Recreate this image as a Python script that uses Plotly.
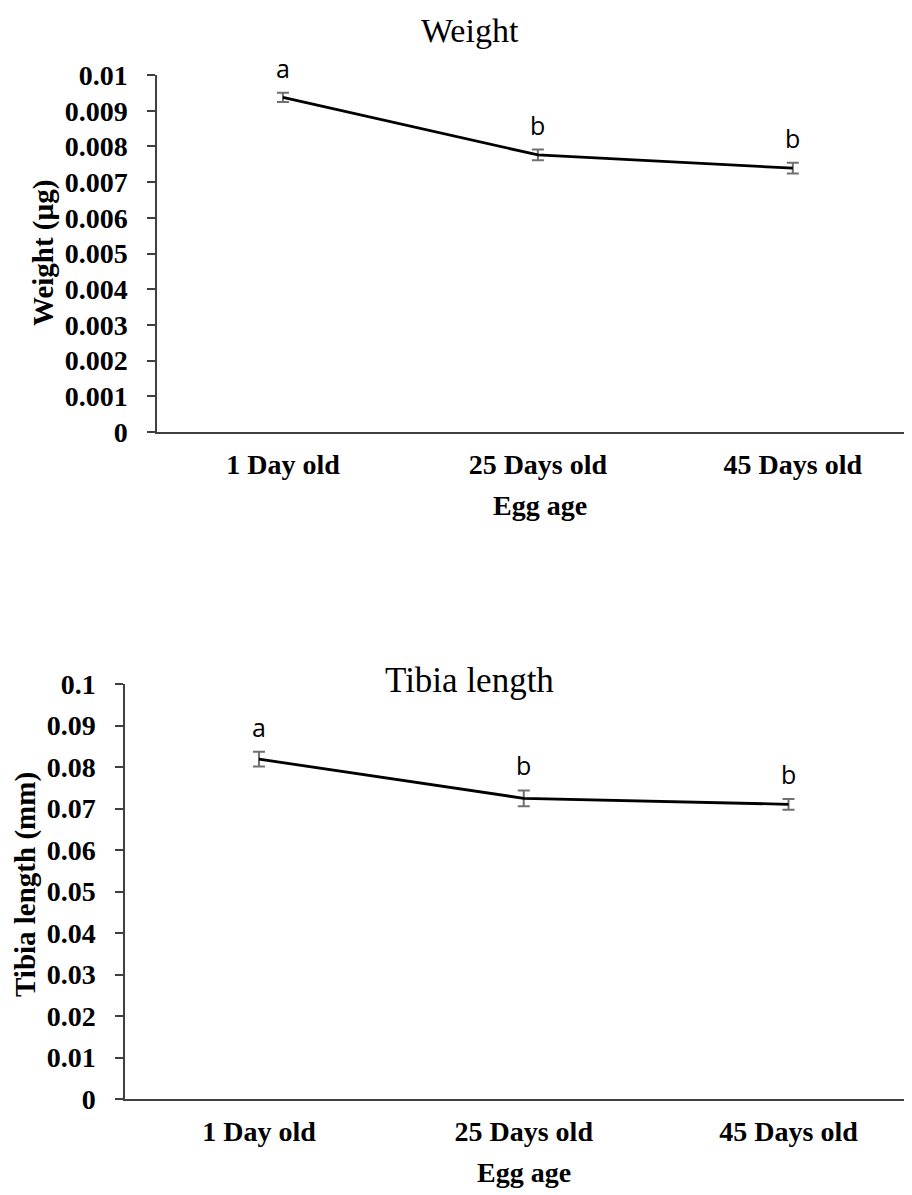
import plotly.graph_objects as go

categories = ["1 Day old", "25 Days old", "45 Days old"]
weight_mean = [0.009375, 0.00776, 0.00739]
weight_err = [0.00013, 0.00015, 0.00015]
weight_letters = ["a", "b", "b"]
tibia_mean = [0.0819, 0.07246, 0.07101]
tibia_err = [0.0018, 0.0019, 0.0013]
tibia_letters = ["a", "b", "b"]
weight_ticks = [0, 0.001, 0.002, 0.003, 0.004, 0.005, 0.006, 0.007, 0.008, 0.009, 0.01]
tibia_ticks = [0, 0.01, 0.02, 0.03, 0.04, 0.05, 0.06, 0.07, 0.08, 0.09, 0.1]

W, H = 912, 1195
OFF = 8  # page body margin offset


def px(x):
    return (x - OFF) / W


def py(y):
    return 1 - (y - OFF) / H


serif = "Liberation Serif, Times New Roman, serif"
sans = "Open Sans, Noto Sans, sans-serif"
xs = list(range(len(categories)))

fig = go.Figure()


def add_panel(fig, means, errs, xa, ya):
    fig.add_trace(go.Scatter(
        x=xs, y=means, mode="lines",
        line=dict(color="black", width=2.8),
        error_y=dict(type="data", array=errs, visible=True, color="#707070", thickness=2, width=6),
        xaxis=xa, yaxis=ya, showlegend=False, hoverinfo="skip"))


add_panel(fig, weight_mean, weight_err, "x", "y")
add_panel(fig, tibia_mean, tibia_err, "x2", "y2")

letter_font = dict(family=sans, size=25, color="black")
anns = []
for i, (m, e, t) in enumerate(zip(weight_mean, weight_err, weight_letters)):
    anns.append(dict(x=i, y=m + e, xref="x", yref="y", text=t, showarrow=False,
                     yanchor="bottom", yshift=6, font=letter_font))
for i, (m, e, t) in enumerate(zip(tibia_mean, tibia_err, tibia_letters)):
    anns.append(dict(x=i, y=m + e, xref="x2", yref="y2", text=t, showarrow=False,
                     yanchor="bottom", yshift=6, font=letter_font))

title_font = dict(family=serif, size=34, color="black")
bold_font = dict(family=serif, size=28, color="black", weight="bold")
ytitle_font = dict(family=serif, size=29, color="black", weight="bold")

anns.append(dict(x=px(470), y=py(31), xref="paper", yref="paper", text="Weight", showarrow=False,
                 xanchor="center", yanchor="middle", font=title_font))
anns.append(dict(x=px(470), y=py(681), xref="paper", yref="paper", text="Tibia length", showarrow=False,
                 xanchor="center", yanchor="middle", font=dict(family=serif, size=35, color="black")))
anns.append(dict(x=px(43), y=py(253), xref="paper", yref="paper", text="<b>Weight (µg)</b>",
                 showarrow=False, textangle=-90, xanchor="center", yanchor="middle", font=ytitle_font))
anns.append(dict(x=px(25), y=py(885), xref="paper", yref="paper", text="<b>Tibia length (mm)</b>",
                 showarrow=False, textangle=-90, xanchor="center", yanchor="middle", font=ytitle_font))
anns.append(dict(x=px(540), y=py(505), xref="paper", yref="paper", text="<b>Egg age</b>",
                 showarrow=False, xanchor="center", yanchor="middle", font=bold_font))
anns.append(dict(x=px(524), y=py(1172), xref="paper", yref="paper", text="<b>Egg age</b>",
                 showarrow=False, xanchor="center", yanchor="middle", font=bold_font))


def yax(domain, ticks, rng, anchor):
    return dict(domain=domain, range=rng, tickvals=ticks, ticktext=[f"<b>{t:g}</b>" for t in ticks],
                showline=True, linecolor="#404040", linewidth=1.5, ticks="outside", ticklen=8,
                tickcolor="#404040", tickwidth=1.5, showgrid=False, zeroline=False,
                tickfont=bold_font, ticklabelstandoff=14, automargin=False, anchor=anchor)


def xax(domain, rng, anchor):
    return dict(domain=domain, range=rng, tickvals=xs, ticktext=[f"<b>{c}</b>" for c in categories],
                showline=True, linecolor="#404040", linewidth=1.5, ticks="", showgrid=False,
                zeroline=False, tickfont=bold_font, anchor=anchor, automargin=False,
                ticklabelstandoff=7)


fig.update_layout(
    width=W, height=H, margin=dict(l=0, r=0, t=0, b=0, pad=0), autosize=False,
    paper_bgcolor="white", plot_bgcolor="white",
    xaxis=xax([px(157), px(905)], [-0.494, 2.44], "y"),
    yaxis=yax([py(432), py(75)], weight_ticks, [0, 0.01], "x"),
    xaxis2=xax([px(125), px(905)], [-0.506, 2.44], "y2"),
    yaxis2=yax([py(1099), py(684)], tibia_ticks, [0, 0.1], "x2"),
    annotations=anns,
)

fig.write_html("out.html")
